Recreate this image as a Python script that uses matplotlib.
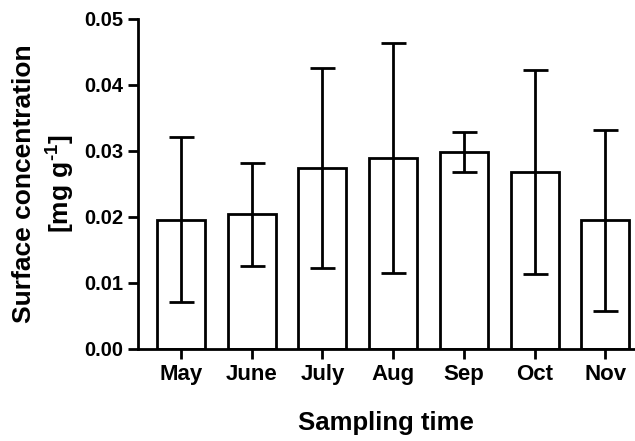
import numpy as np
import matplotlib.pyplot as plt

plt.rcParams['font.family'] = ['Liberation Sans', 'DejaVu Sans']
plt.rcParams['font.weight'] = 'bold'
plt.rcParams['mathtext.fontset'] = 'custom'
plt.rcParams['mathtext.rm'] = 'Liberation Sans:bold'
plt.rcParams['mathtext.bf'] = 'Liberation Sans:bold'
plt.rcParams['mathtext.default'] = 'bf'

months = ['May', 'June', 'July', 'Aug', 'Sep', 'Oct', 'Nov']
means = [0.0196, 0.0204, 0.0274, 0.0289, 0.0298, 0.0268, 0.0195]
errs = [0.0125, 0.0078, 0.0152, 0.0174, 0.0030, 0.0154, 0.0137]

fig = plt.figure(figsize=(6.35, 4.41), dpi=100)
ax = fig.add_axes([0.218, 0.209, 0.78, 0.748])

x = np.arange(len(months))
ax.bar(x, means, width=0.68, color='white', edgecolor='black', linewidth=2.0, zorder=2)
ax.errorbar(x, means, yerr=errs, fmt='none', ecolor='black', elinewidth=2.0,
            capsize=9, capthick=2.0, zorder=3)

ax.set_xlim(-0.6, 6.4)
ax.set_ylim(0, 0.05)
ax.set_yticks([0.00, 0.01, 0.02, 0.03, 0.04, 0.05])
ax.set_yticklabels(['0.00', '0.01', '0.02', '0.03', '0.04', '0.05'])
ax.set_xticks(x)
ax.set_xticklabels(months)

for s in ['top', 'right']:
    ax.spines[s].set_visible(False)
for s in ['left', 'bottom']:
    ax.spines[s].set_linewidth(2.0)

ax.tick_params(axis='both', direction='out', length=7, width=2.0, pad=4)
ax.tick_params(axis='y', labelsize=14.5)
ax.tick_params(axis='x', labelsize=16)

ax.set_ylabel('Surface concentration\n[mg g$^{\\text{-1}}$]', fontsize=19,
              fontweight='bold', labelpad=5, linespacing=1.35)
ax.set_xlabel('Sampling time', fontsize=18.5, fontweight='bold', labelpad=19)

fig.savefig('out.png', dpi=100)
